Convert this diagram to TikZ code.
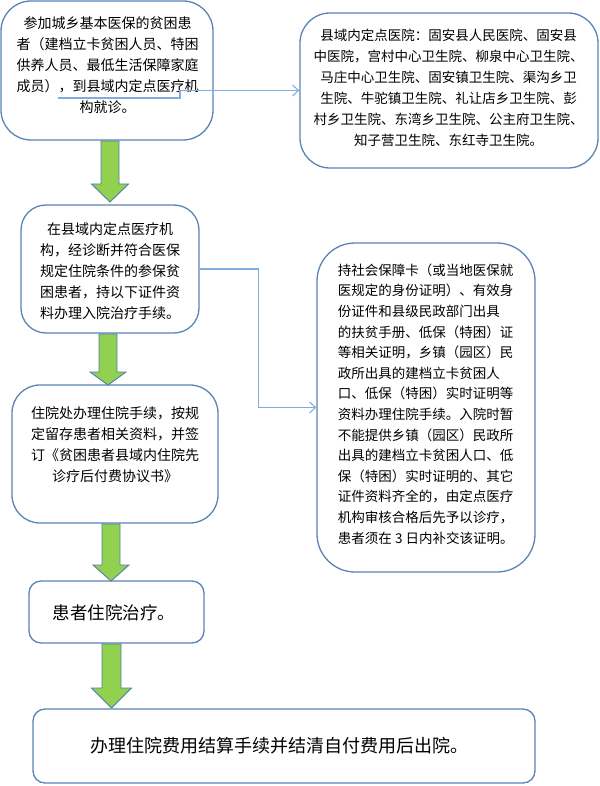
\documentclass[tikz,border=0pt]{standalone}
\usepackage{fontspec}
\setmainfont{Noto Sans CJK SC}
\usetikzlibrary{arrows.meta,calc}
\definecolor{boxblue}{HTML}{5A84B4}
\definecolor{linkblue}{HTML}{7FAEDD}
\definecolor{arrowgreen}{HTML}{92D050}
\definecolor{arrowedge}{HTML}{4F7BAE}
\begin{document}
\begin{tikzpicture}[x=1pt,y=-1pt,
  box/.style={draw=boxblue, line width=1.3pt, fill=white, rectangle, inner sep=0pt},
  txt/.style={font=\fontsize{14}{21}\selectfont, align=center, inner sep=0pt, text=black},
  link/.style={draw=linkblue, line width=1.1pt, -{Straight Barb[length=6pt,width=11pt]}},
  garrow/.style={fill=arrowgreen, draw=arrowedge, line width=0.9pt, line join=miter}
]
\useasboundingbox (0,0) rectangle (599,786);

% boxes
\node[box, minimum width=212pt, minimum height=139pt, rounded corners=30pt] (b1) at (107,70.5) {};
\node[box, minimum width=298pt, minimum height=155pt, rounded corners=30pt] (b2) at (449,90.5) {};
\node[box, minimum width=178pt, minimum height=128pt, rounded corners=25pt] (b3) at (110,269) {};
\node[box, minimum width=218pt, minimum height=329pt, rounded corners=38pt] (b4) at (426,407.5) {};
\node[box, minimum width=206pt, minimum height=138pt, rounded corners=28pt] (b5) at (115,454) {};
\node[box, minimum width=175pt, minimum height=62pt, rounded corners=12pt] (b6) at (116.5,612) {};
\node[box, minimum width=502pt, minimum height=74pt, rounded corners=12pt] (b7) at (284,746) {};

% texts
\node[txt] (t1) at (107.5,65) {参加城乡基本医保的贫困患\\者（建档立卡贫困人员、特困\\供养人员、最低生活保障家庭\\成员），到县域内定点医疗机\\构就诊。};
\node[txt, font=\fontsize{13.5}{21}\selectfont] (t2) at (448.5,87.5) {县域内定点医院：固安县人民医院、固安县\\中医院，宫村中心卫生院、柳泉中心卫生院、\\马庄中心卫生院、固安镇卫生院、渠沟乡卫\\生院、牛驼镇卫生院、礼让店乡卫生院、彭\\村乡卫生院、东湾乡卫生院、公主府卫生院、\\知子营卫生院、东红寺卫生院。};
\node[txt] (t3) at (110,271) {在县域内定点医疗机\\构，经诊断并符合医保\\规定住院条件的参保贫\\困患者，持以下证件资\\料办理入院治疗手续。};
\node[txt, align=left, font=\fontsize{13.5}{20.6}\selectfont] (t4) at (425.75,404) {持社会保障卡（或当地医保就\\医规定的身份证明）、有效身\\份证件和县级民政部门出具\\的扶贫手册、低保（特困）证\\等相关证明，乡镇（园区）民\\政所出具的建档立卡贫困人\\口、低保（特困）实时证明等\\资料办理住院手续。入院时暂\\不能提供乡镇（园区）民政所\\出具的建档立卡贫困人口、低\\保（特困）实时证明的、其它\\证件资料齐全的，由定点医疗\\机构审核合格后先予以诊疗，\\患者须在 3 日内补交该证明。};
\node[txt] (t5) at (115,444.5) {住院处办理住院手续，按规\\定留存患者相关资料，并签\\订《贫困患者县域内住院先\\诊疗后付费协议书》};
\node[txt, font=\fontsize{17.5}{21}\selectfont] (t6) at (114,613) {患者住院治疗。};
\node[txt, font=\fontsize{18}{21}\selectfont] (t7) at (279,746) {办理住院费用结算手续并结清自付费用后出院。};

% thin connectors
\coordinate (c1s) at (58,98);
\draw[link] (c1s) -- ++(122,0) |- (b2.west);
\draw[link] (b3.east) -- ++(59,0) |- (b4.west);

% green block arrows
\draw[garrow] (101,141) -- (119,141) -- (119,184) -- (128.5,184) -- (110,202) -- (91.5,184) -- (101,184) -- cycle;
\draw[garrow] (99,334) -- (117,334) -- (117,372) -- (126,372) -- (108,385) -- (90,372) -- (99,372) -- cycle;
\draw[garrow] (102,524) -- (120,524) -- (120,565) -- (129,565) -- (111,581) -- (93,565) -- (102,565) -- cycle;
\draw[garrow] (102,644) -- (121,644) -- (121,688) -- (131.5,688) -- (111.5,708) -- (91.5,688) -- (102,688) -- cycle;
\end{tikzpicture}
\end{document}
